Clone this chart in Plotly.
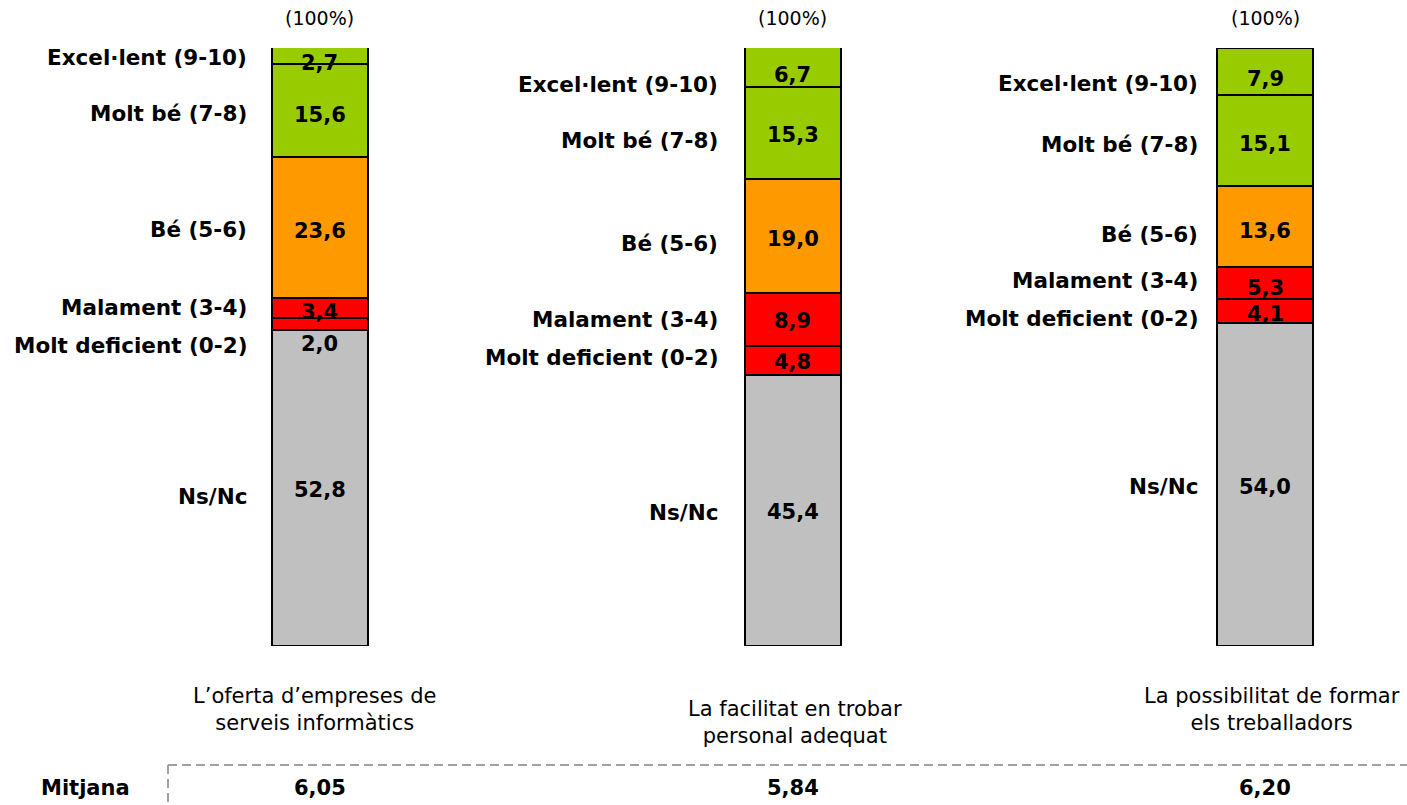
import plotly.graph_objects as go

# Survey ratings (%) for three aspects, stacked bottom -> top
aspects = [
    "L’oferta d’empreses de<br>serveis informàtics",
    "La facilitat en trobar<br>personal adequat",
    "La possibilitat de formar<br>els treballadors",
]
categories = ["Ns/Nc", "Molt deficient (0-2)", "Malament (3-4)", "Bé (5-6)",
              "Molt bé (7-8)", "Excel·lent (9-10)"]
ns_nc = [52.8, 45.4, 54.0]
molt_deficient = [2.0, 4.8, 4.1]
malament = [3.4, 8.9, 5.3]
be = [23.6, 19.0, 13.6]
molt_be = [15.6, 15.3, 15.1]
excellent = [2.7, 6.7, 7.9]
mitjana = [6.05, 5.84, 6.20]

series = [ns_nc, molt_deficient, malament, be, molt_be, excellent]
colors = ["#C0C0C0", "#FF0000", "#FF0000", "#FF9900", "#99CC00", "#99CC00"]

# Pixel nudges (downwards) for labels so that small segments stay readable
value_nudge = [[0, 0, 0], [18, 0, 1], [2, 0, 3], [1.5, 1.5, 2.5], [2.5, 0, 2], [6, 6, 5.5]]
cat_nudge = [[6.5, 0, 0], [19, -4.5, 6], [-3, -1.5, -4], [0, 5.5, 6.5], [1.5, 5, 2], [0, 15, 9.5]]
TEXT_DROP = 2
cat_gap = [-23, -25, -17]
aspect_shift = [-5, 2, 7]

W, H = 1407, 805
TOP, BOTTOM = 48, 646
X_RANGE = [-0.677, 2.300]
BAR_W = 0.203
xs = [0, 1, 2]

FONT = "DejaVu Sans"


def fmt(v, nd=1):
    return f"{v:.{nd}f}".replace(".", ",")


def py_to_paper(py):
    return (BOTTOM - py) / (BOTTOM - TOP)


fig = go.Figure()
for name, vals, col in zip(categories, series, colors):
    fig.add_trace(go.Bar(
        x=xs, y=vals, name=name, width=BAR_W,
        marker=dict(color=col, line=dict(color="black", width=2)),
        showlegend=False, hoverinfo="skip",
    ))

annotations = []
for b in range(3):
    base = 0.0
    for s, vals in enumerate(series):
        v = vals[b]
        mid = base + v / 2
        base += v
        annotations.append(dict(
            x=xs[b], y=mid, xref="x", yref="y", text=f"<b>{fmt(v)}</b>",
            showarrow=False, yanchor="middle",
            yshift=-(value_nudge[s][b] + TEXT_DROP),
            font=dict(family=FONT, size=21, color="black"),
        ))
        annotations.append(dict(
            x=xs[b] - BAR_W / 2, y=mid, xref="x", yref="y",
            text=f"<b>{categories[s]}</b>", showarrow=False,
            xanchor="right", yanchor="middle", xshift=cat_gap[b],
            yshift=-(cat_nudge[s][b] + TEXT_DROP),
            font=dict(family=FONT, size=21.5, color="black"),
        ))
    annotations.append(dict(
        x=xs[b], y=py_to_paper(18), xref="x", yref="paper", text="(100%)",
        showarrow=False, xanchor="center", yanchor="middle",
        font=dict(family=FONT, size=19, color="black"),
    ))
    annotations.append(dict(
        x=xs[b], y=py_to_paper(722 if b == 1 else 709.5), xref="x", yref="paper",
        text=aspects[b], showarrow=False, xanchor="center", yanchor="middle",
        xshift=aspect_shift[b],
        font=dict(family=FONT, size=21, color="black"),
    ))
    annotations.append(dict(
        x=xs[b], y=py_to_paper(788), xref="x", yref="paper",
        text=f"<b>{fmt(mitjana[b], 2)}</b>", showarrow=False,
        xanchor="center", yanchor="middle",
        font=dict(family=FONT, size=21, color="black"),
    ))

annotations.append(dict(
    x=85 / W, y=py_to_paper(788), xref="paper", yref="paper", text="<b>Mitjana</b>",
    showarrow=False, xanchor="center", yanchor="middle",
    font=dict(family=FONT, size=21, color="black"),
))

dash = dict(color="#A0A0A0", width=2, dash="9px,5px")
shapes = [
    dict(type="line", xref="paper", yref="paper", x0=168 / W, x1=1.0,
         y0=py_to_paper(765), y1=py_to_paper(765), line=dash),
    dict(type="line", xref="paper", yref="paper", x0=168 / W, x1=168 / W,
         y0=py_to_paper(765), y1=py_to_paper(806), line=dash),
]

fig.update_layout(
    width=W, height=H, barmode="stack",
    margin=dict(l=0, r=0, t=TOP, b=H - BOTTOM),
    plot_bgcolor="white", paper_bgcolor="white",
    xaxis=dict(range=X_RANGE, visible=False, fixedrange=True),
    yaxis=dict(range=[0, 100], visible=False, fixedrange=True),
    annotations=annotations, shapes=shapes,
)

fig.write_html("out.html")
